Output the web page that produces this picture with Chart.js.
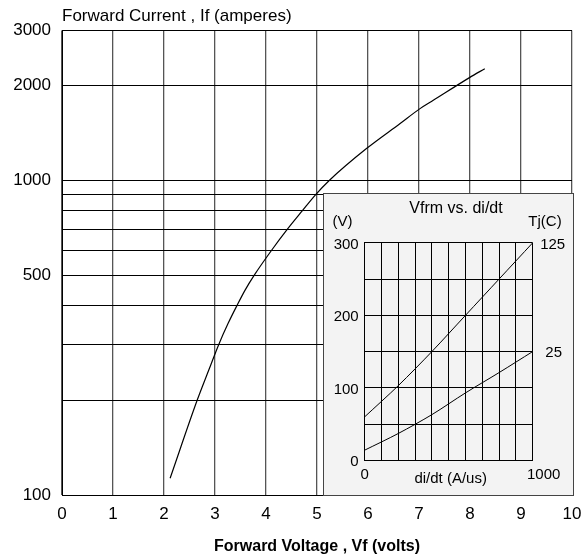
<!DOCTYPE html>
<html>
<head>
<meta charset="utf-8">
<script src="https://cdn.jsdelivr.net/npm/chart.js@4.4.1/dist/chart.umd.min.js"></script>
<style>
  body { margin: 0; background: #fff; }
  #wrap { position: relative; width: 582px; height: 556px; }
  #main { position: absolute; left: 0; top: 0; }
  #insetBox { position: absolute; left: 323px; top: 193px; width: 249px; height: 301px; border: 1px solid #444; background: #f3f3f3; }
  #inset { display: block; }
</style>
</head>
<body>
<div id="wrap">
  <canvas id="main" width="582" height="556"></canvas>
  <div id="insetBox"><canvas id="inset" width="249" height="301"></canvas></div>
</div>
<script>
// forward characteristic
const vfVolts = [2.12, 2.65, 2.88, 3.07, 3.26, 3.43, 3.59, 3.77, 4.11, 4.42, 4.71, 4.97, 5.24, 5.97, 6.63, 7.02, 7.28, 7.99, 8.29];
const ifAmps  = [113, 200, 250, 300, 352, 400, 448, 500, 600, 700, 800, 900, 1000, 1263, 1517, 1692, 1798, 2123, 2267];
const yGridValues = [100, 200, 300, 400, 500, 600, 700, 800, 900, 1000, 2000, 3000];
const yTickLabels = [100, 500, 1000, 2000, 3000];

// inset: Vfrm vs di/dt
const didt = [0, 200, 400, 600, 800, 1000];
const vfrm125 = [60, 103, 150, 200, 250, 300];
const vfrm25 = [14, 37, 63, 93, 121, 150];
const insetYLabels = [0, 100, 200, 300];

const FONT = "'Liberation Sans', Arial, sans-serif";

function pts(xs, ys) {
  return xs.map(function (x, i) { return { x: x, y: ys[i] }; });
}

const CHART = document.getElementById("main");
const INSET = document.getElementById("inset");

let mainChart = new Chart(CHART, {
  type: 'scatter',
  data: {
    datasets: [{
      data: pts(vfVolts, ifAmps),
      showLine: true,
      borderColor: '#000',
      borderWidth: 1.2,
      pointRadius: 0,
      cubicInterpolationMode: 'monotone',
      fill: false
    }]
  },
  options: {
    responsive: false,
    animation: false,
    layout: { padding: 0 },
    plugins: {
      legend: { display: false },
      tooltip: { enabled: false },
      title: {
        display: true,
        text: 'Forward Current , If (amperes)',
        align: 'start',
        fullSize: false,
        color: '#000',
        font: { family: FONT, size: 17, weight: 'normal' },
        padding: { top: 6, bottom: 4 }
      }
    },
    scales: {
      x: {
        type: 'linear',
        min: 0,
        max: 10,
        ticks: { stepSize: 1, color: '#000', font: { family: FONT, size: 17 }, padding: 9, maxRotation: 0 },
        grid: { color: '#555', lineWidth: 1.3, drawTicks: false },
        border: { color: '#000' },
        title: {
          display: true,
          text: 'Forward Voltage , Vf (volts)',
          color: '#000',
          font: { family: FONT, size: 16, weight: 'bold' },
          padding: { top: 0, bottom: 0 }
        },
        afterFit: function (s) {
          s.height = 61;
          // keep the plot's right edge 10px from the canvas edge
          s.paddingLeft = 0;
          s.paddingRight = 10;
        }
      },
      y: {
        type: 'logarithmic',
        min: 100,
        max: 3000,
        afterBuildTicks: function (s) { s.ticks = yGridValues.map(function (v) { return { value: v }; }); },
        ticks: {
          color: '#000',
          font: { family: FONT, size: 17 },
          padding: 11,
          callback: function (v) { return yTickLabels.includes(v) ? String(v) : ''; }
        },
        grid: { color: '#000', lineWidth: 1, drawTicks: false },
        border: { color: '#000' },
        afterFit: function (s) { s.width = 62; }
      }
    }
  }
});

// texts of the inset, placed from its own scales
const insetText = {
  id: 'insetText',
  afterDraw: function (chart) {
    const ctx = chart.ctx;
    const xs = chart.scales.x, ys = chart.scales.y;
    ctx.save();
    ctx.fillStyle = '#000';
    ctx.font = '15px ' + FONT;
    ctx.textBaseline = 'middle';
    ctx.textAlign = 'right';
    insetYLabels.forEach(function (v) {
      ctx.fillText(String(v), xs.left - 6, ys.getPixelForValue(v) + 2);
    });
    ctx.textAlign = 'center';
    ctx.fillText('0', xs.getPixelForValue(0), ys.bottom + 15);
    ctx.fillText('1000', xs.right + 11, ys.bottom + 15);
    ctx.fillText('di/dt (A/us)', 126.7, ys.bottom + 19);
    ctx.fillText('(V)', 18.5, 28);
    ctx.fillText('Tj(C)', 221, 28);
    ctx.fillText('125', xs.right + 20, ys.getPixelForValue(vfrm125[vfrm125.length - 1]) + 2);
    ctx.fillText('25', xs.right + 21, ys.getPixelForValue(vfrm25[vfrm25.length - 1]) + 1);
    ctx.font = '16px ' + FONT;
    ctx.fillText('Vfrm vs. di/dt', 132, 15);
    ctx.restore();
  }
};

let insetChart = new Chart(INSET, {
  type: 'scatter',
  data: {
    datasets: [
      { data: pts(didt, vfrm125), showLine: true, borderColor: '#000', borderWidth: 1, pointRadius: 0, tension: 0.3 },
      { data: pts(didt, vfrm25), showLine: true, borderColor: '#000', borderWidth: 1, pointRadius: 0, tension: 0.3 }
    ]
  },
  options: {
    responsive: false,
    animation: false,
    layout: { padding: { left: 40.7, right: 40.3, top: 48.8, bottom: 34.7 } },
    plugins: { legend: { display: false }, tooltip: { enabled: false } },
    scales: {
      x: {
        type: 'linear', min: 0, max: 1000,
        ticks: { stepSize: 100, display: false },
        grid: { color: '#000', drawTicks: false },
        border: { color: '#000' },
        afterFit: function (s) { s.height = 0; }
      },
      y: {
        type: 'linear', min: 0, max: 300,
        ticks: { stepSize: 50, display: false },
        grid: { color: '#000', drawTicks: false },
        border: { color: '#000' },
        afterFit: function (s) { s.width = 0; }
      }
    }
  },
  plugins: [insetText]
});
</script>
</body>
</html>
